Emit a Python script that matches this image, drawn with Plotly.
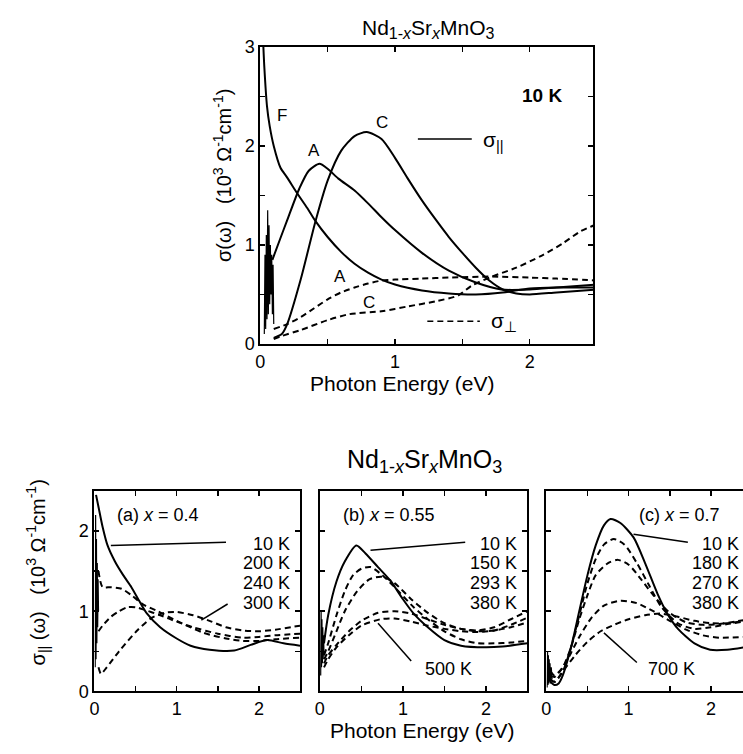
import plotly.graph_objects as go

W, H = 743, 754

# ---------------- data: top panel (10 K) ----------------
E_F = [0.02, 0.03, 0.05, 0.07, 0.1, 0.15, 0.2, 0.27, 0.35, 0.41, 0.5, 0.6, 0.7, 0.8, 0.9, 1.0, 1.2, 1.4, 1.6, 1.8, 2.0, 2.2, 2.5]
S_F = [3.1, 2.8, 2.4, 2.2, 2.0, 1.78, 1.68, 1.53, 1.37, 1.24, 1.08, 0.93, 0.81, 0.72, 0.65, 0.6, 0.54, 0.51, 0.5, 0.52, 0.56, 0.57, 0.57]

E_A = [0.09, 0.15, 0.2, 0.29, 0.36, 0.44, 0.5, 0.58, 0.7, 0.8, 0.9, 1.0, 1.2, 1.4, 1.6, 1.79, 2.0, 2.2, 2.5]
S_A = [0.85, 1.07, 1.25, 1.57, 1.75, 1.82, 1.77, 1.67, 1.55, 1.42, 1.28, 1.15, 0.92, 0.74, 0.62, 0.55, 0.55, 0.57, 0.6]

E_C = [0.1, 0.16, 0.2, 0.3, 0.41, 0.5, 0.6, 0.7, 0.79, 0.9, 1.0, 1.1, 1.2, 1.3, 1.4, 1.5, 1.6, 1.7, 1.8, 1.9, 2.0, 2.2, 2.5]
S_C = [0.06, 0.1, 0.2, 0.65, 1.24, 1.65, 1.95, 2.1, 2.14, 2.07, 1.88, 1.66, 1.45, 1.26, 1.08, 0.92, 0.77, 0.64, 0.55, 0.51, 0.5, 0.52, 0.55]

E_Aperp = [0.1, 0.2, 0.3, 0.4, 0.5, 0.6, 0.7, 0.8, 0.9, 1.0, 1.2, 1.4, 1.72, 2.0, 2.2, 2.5]
S_Aperp = [0.15, 0.2, 0.27, 0.36, 0.45, 0.52, 0.57, 0.61, 0.64, 0.65, 0.66, 0.67, 0.68, 0.67, 0.66, 0.64]

E_Cperp = [0.1, 0.16, 0.3, 0.5, 0.66, 0.9, 1.1, 1.3, 1.47, 1.57, 1.72, 1.9, 2.1, 2.25, 2.38, 2.5]
S_Cperp = [0.05, 0.08, 0.14, 0.24, 0.3, 0.33, 0.38, 0.43, 0.49, 0.59, 0.68, 0.77, 0.9, 1.02, 1.14, 1.21]

E_noise_top = [0.03, 0.035, 0.04, 0.045, 0.05, 0.055, 0.06, 0.065, 0.07, 0.075, 0.08, 0.085, 0.09, 0.095, 0.1]
S_noise_top = [0.1, 0.9, 0.15, 1.1, 0.25, 1.35, 0.3, 1.2, 0.4, 1.0, 0.5, 0.9, 0.3, 0.8, 0.2]

# ---------------- data: (a) x = 0.4 ----------------
E_a10 = [0.02, 0.05, 0.1, 0.16, 0.25, 0.35, 0.45, 0.55, 0.64, 0.8, 1.0, 1.17, 1.4, 1.7, 1.9, 2.1, 2.3, 2.5]
S_a10 = [2.45, 2.3, 2.05, 1.82, 1.62, 1.45, 1.3, 1.12, 0.97, 0.8, 0.66, 0.57, 0.52, 0.51, 0.58, 0.64, 0.6, 0.57]
E_a200 = [0.05, 0.1, 0.2, 0.33, 0.45, 0.6, 0.77, 1.0, 1.33, 1.6, 1.8, 2.0, 2.2, 2.5]
S_a200 = [1.5, 1.3, 1.3, 1.28, 1.2, 1.08, 1.0, 0.88, 0.73, 0.66, 0.63, 0.63, 0.65, 0.67]
E_a240 = [0.05, 0.1, 0.2, 0.3, 0.4, 0.5, 0.6, 0.8, 1.0, 1.2, 1.5, 1.8, 2.0, 2.2, 2.5]
S_a240 = [0.75, 0.82, 0.93, 1.0, 1.05, 1.05, 1.02, 0.95, 0.87, 0.8, 0.72, 0.67, 0.68, 0.7, 0.72]
E_a300 = [0.05, 0.08, 0.15, 0.3, 0.53, 0.7, 0.85, 1.0, 1.2, 1.4, 1.6, 1.8, 2.0, 2.2, 2.5]
S_a300 = [0.3, 0.22, 0.3, 0.5, 0.77, 0.92, 0.98, 0.99, 0.95, 0.88, 0.8, 0.76, 0.75, 0.77, 0.82]
E_noise_a = [0.01, 0.015, 0.02, 0.025, 0.03, 0.035, 0.04, 0.045, 0.05]
S_noise_a = [0.3, 2.2, 0.4, 1.9, 0.6, 1.6, 0.8, 1.4, 1.0]

# ---------------- data: (b) x = 0.55 ----------------
E_b10 = [0.05, 0.1, 0.2, 0.3, 0.44, 0.55, 0.7, 0.85, 1.0, 1.13, 1.3, 1.5, 1.7, 1.99, 2.2, 2.5]
S_b10 = [0.6, 0.95, 1.37, 1.62, 1.82, 1.72, 1.55, 1.38, 1.15, 0.97, 0.8, 0.64, 0.57, 0.55, 0.56, 0.6]
E_b150 = [0.05, 0.1, 0.2, 0.3, 0.4, 0.5, 0.61, 0.75, 0.9, 1.13, 1.3, 1.5, 1.7, 1.9, 2.1, 2.3, 2.5]
S_b150 = [0.45, 0.6, 0.95, 1.25, 1.45, 1.53, 1.55, 1.45, 1.3, 1.05, 0.9, 0.75, 0.65, 0.6, 0.6, 0.61, 0.63]
E_b293 = [0.05, 0.1, 0.2, 0.3, 0.45, 0.6, 0.75, 0.9, 1.1, 1.3, 1.5, 1.7, 1.9, 2.1, 2.3, 2.5]
S_b293 = [0.4, 0.5, 0.75, 1.0, 1.25, 1.4, 1.43, 1.35, 1.15, 0.98, 0.85, 0.78, 0.75, 0.76, 0.8, 0.86]
E_b380 = [0.05, 0.1, 0.2, 0.35, 0.5, 0.7, 0.9, 1.1, 1.3, 1.5, 1.7, 1.9, 2.1, 2.3, 2.5]
S_b380 = [0.35, 0.45, 0.58, 0.75, 0.88, 0.98, 1.0, 0.97, 0.9, 0.83, 0.78, 0.76, 0.8, 0.9, 1.0]
E_b500 = [0.05, 0.1, 0.2, 0.35, 0.5, 0.73, 0.9, 1.1, 1.3, 1.5, 1.7, 1.9, 2.1, 2.3, 2.5]
S_b500 = [0.3, 0.4, 0.55, 0.7, 0.82, 0.9, 0.91, 0.87, 0.82, 0.78, 0.75, 0.74, 0.76, 0.83, 0.92]
E_noise_b = [0.01, 0.015, 0.02, 0.025, 0.03, 0.035, 0.04, 0.045, 0.05]
S_noise_b = [0.2, 1.0, 0.3, 0.9, 0.35, 0.8, 0.4, 0.7, 0.45]

# ---------------- data: (c) x = 0.7 ----------------
E_c10 = [0.05, 0.1, 0.15, 0.2, 0.3, 0.4, 0.5, 0.6, 0.7, 0.78, 0.9, 1.06, 1.2, 1.35, 1.47, 1.6, 1.8, 1.99, 2.2, 2.4]
S_c10 = [0.12, 0.08, 0.1, 0.2, 0.55, 1.0, 1.45, 1.82, 2.07, 2.15, 2.1, 1.92, 1.6, 1.22, 0.97, 0.78, 0.6, 0.52, 0.52, 0.55]
E_c180 = [0.05, 0.1, 0.2, 0.3, 0.4, 0.5, 0.6, 0.7, 0.82, 0.95, 1.1, 1.25, 1.4, 1.6, 1.8, 2.0, 2.2, 2.4]
S_c180 = [0.15, 0.12, 0.25, 0.55, 0.95, 1.35, 1.65, 1.83, 1.9, 1.83, 1.6, 1.32, 1.05, 0.85, 0.78, 0.8, 0.84, 0.87]
E_c270 = [0.05, 0.1, 0.2, 0.3, 0.4, 0.5, 0.6, 0.75, 0.87, 1.0, 1.15, 1.3, 1.5, 1.7, 1.9, 2.1, 2.4]
S_c270 = [0.2, 0.18, 0.3, 0.55, 0.9, 1.2, 1.45, 1.6, 1.64, 1.58, 1.4, 1.2, 0.98, 0.86, 0.83, 0.84, 0.89]
E_c380 = [0.05, 0.1, 0.2, 0.3, 0.4, 0.55, 0.7, 0.9, 1.1, 1.3, 1.5, 1.7, 1.9, 2.1, 2.4]
S_c380 = [0.25, 0.2, 0.3, 0.48, 0.68, 0.92, 1.07, 1.13, 1.1, 1.0, 0.88, 0.77, 0.7, 0.67, 0.68]
E_c700 = [0.05, 0.1, 0.2, 0.35, 0.5, 0.66, 0.8, 1.0, 1.2, 1.39, 1.6, 1.8, 2.0, 2.2, 2.4]
S_c700 = [0.15, 0.12, 0.25, 0.45, 0.62, 0.75, 0.82, 0.9, 0.95, 0.97, 0.93, 0.88, 0.85, 0.85, 0.88]
E_noise_c = [0.01, 0.015, 0.02, 0.025, 0.03, 0.035, 0.04, 0.045, 0.05, 0.06, 0.07]
S_noise_c = [0.05, 0.5, 0.08, 0.45, 0.1, 0.4, 0.12, 0.35, 0.1, 0.3, 0.15]

major_ticks = [0, 1, 2, 3]
minor_ticks = [0.5, 1.5, 2.5]

# ---------------- figure ----------------
FONT = "Liberation Sans, Arial, sans-serif"
fig = go.Figure()
DASH = "6px,4px"


def add(x, y, axes, dash=None, width=2.0, shape="spline"):
    xa, ya = axes
    fig.add_trace(go.Scatter(
        x=x, y=y, xaxis=xa, yaxis=ya, mode="lines",
        line=dict(color="black", width=width, dash=dash if dash else "solid",
                  shape=shape, smoothing=0.7 if shape == "spline" else None),
        showlegend=False, hoverinfo="skip"))


# top
add(E_F, S_F, ("x", "y"))
add(E_A, S_A, ("x", "y"))
add(E_C, S_C, ("x", "y"))
add(E_Aperp, S_Aperp, ("x", "y"), dash=DASH)
add(E_Cperp, S_Cperp, ("x", "y"), dash=DASH)
add(E_noise_top, S_noise_top, ("x", "y"), width=1.2, shape="linear")
# (a)
add(E_a10, S_a10, ("x2", "y2"))
add(E_a200, S_a200, ("x2", "y2"), dash=DASH)
add(E_a240, S_a240, ("x2", "y2"), dash=DASH)
add(E_a300, S_a300, ("x2", "y2"), dash=DASH)
add(E_noise_a, S_noise_a, ("x2", "y2"), width=1.2, shape="linear")
# (b)
add(E_b10, S_b10, ("x3", "y3"))
add(E_b150, S_b150, ("x3", "y3"), dash=DASH)
add(E_b293, S_b293, ("x3", "y3"), dash=DASH)
add(E_b380, S_b380, ("x3", "y3"), dash=DASH)
add(E_b500, S_b500, ("x3", "y3"), dash=DASH)
add(E_noise_b, S_noise_b, ("x3", "y3"), width=1.2, shape="linear")
# (c)
add(E_c10, S_c10, ("x4", "y4"))
add(E_c180, S_c180, ("x4", "y4"), dash=DASH)
add(E_c270, S_c270, ("x4", "y4"), dash=DASH)
add(E_c380, S_c380, ("x4", "y4"), dash=DASH)
add(E_c700, S_c700, ("x4", "y4"), dash=DASH)
add(E_noise_c, S_noise_c, ("x4", "y4"), width=1.2, shape="linear")


def px(x):
    return x / W


def py(y):
    return 1 - y / H


def axis(domain, rng, anchor, labels=True, mirror="ticks", fs=18):
    return dict(domain=domain, range=rng, anchor=anchor, showline=True, linecolor="black",
                linewidth=2, mirror=mirror, ticks="inside", ticklen=5, tickwidth=1.5,
                tickcolor="black", tickmode="array", tickvals=major_ticks,
                minor=dict(tickmode="array", tickvals=minor_ticks, ticks="inside",
                           ticklen=5, tickwidth=1.5, tickcolor="black", showgrid=False),
                showticklabels=labels, showgrid=False, zeroline=False,
                tickfont=dict(family=FONT, size=fs, color="black"))


fig.update_layout(
    width=W, height=H, margin=dict(l=0, r=0, t=0, b=0),
    paper_bgcolor="white", plot_bgcolor="white",
    xaxis=axis([px(257), px(592)], [0, 2.47], "y"),
    yaxis=axis([py(343), py(38)], [0, 3], "x"),
    xaxis2=axis([px(90), px(297)], [0, 2.5], "y2"),
    yaxis2=axis([py(700), py(494)], [0, 2.5], "x2"),
    xaxis3=axis([px(317), px(526)], [0, 2.5], "y3"),
    yaxis3=axis([py(700), py(494)], [0, 2.5], "x3", labels=False),
    xaxis4=axis([px(545), 1.0], [0, 2.39], "y4"),
    yaxis4=axis([py(700), py(494)], [0, 2.5], "x4", labels=False, mirror=False),
)

ann = []


def txt(x, y, s, size, xref="paper", yref="paper", xanchor="center", angle=0, yanchor="middle"):
    if xref == "paper":
        x = px(x)
    if yref == "paper":
        y = py(y)
    ann.append(dict(x=x, y=y, xref=xref, yref=yref, text=s, showarrow=False,
                    xanchor=xanchor, yanchor=yanchor, textangle=angle,
                    font=dict(family=FONT, size=size, color="black")))


def name(sub):
    return ("Nd<sub><span style='font-size:%dpx'>1-<i>x</i></span></sub>"
            "Sr<sub><span style='font-size:%dpx'><i>x</i></span></sub>"
            "MnO<sub><span style='font-size:%dpx'>3</span></sub>") % (sub, sub, sub)


YT = "(10<sup>3</sup> Ω<sup>-1</sup>cm<sup>-1</sup>)"
GAP = "&nbsp;&nbsp;&nbsp;"
txt(426, 20, name(16), 21)
txt(400, 384, "Photon Energy (eV)", 21)
txt(219, 170, "σ(ω)" + GAP + YT, 20, angle=-90)
txt(0.16, 2.31, "F", 17, "x", "y")
txt(0.4, 1.95, "A", 17, "x", "y")
txt(0.9, 2.24, "C", 17, "x", "y")
txt(0.59, 0.68, "A", 17, "x", "y")
txt(0.81, 0.42, "C", 17, "x", "y")
txt(2.09, 2.51, "<b>10 K</b>", 19, "x", "y")
txt(1.64, 2.05, "σ<sub>||</sub>", 21, "x", "y", xanchor="left")
txt(1.7, 0.22, "σ<sub>⊥</sub>", 21, "x", "y", xanchor="left")

txt(422, 463, name(18), 25)
txt(420, 740, "Photon Energy (eV)", 21)
txt(33, 578, "σ<sub>||</sub> (ω)" + GAP + YT, 20, angle=-90)

txt(0.25, 2.2, "(a) <i>x</i> = 0.4", 18, "x2", "y2", xanchor="left")
txt(0.25, 2.2, "(b) <i>x</i> = 0.55", 18, "x3", "y3", xanchor="left")
txt(1.1, 2.2, "(c) <i>x</i> = 0.7", 18, "x4", "y4", xanchor="left")

for i, lab in enumerate(["10 K", "200 K", "240 K", "300 K"]):
    txt(2.4, 1.84 - 0.245 * i, lab, 18, "x2", "y2", xanchor="right")
for i, lab in enumerate(["10 K", "150 K", "293 K", "380 K"]):
    txt(2.4, 1.84 - 0.245 * i, lab, 18, "x3", "y3", xanchor="right")
for i, lab in enumerate(["10 K", "180 K", "270 K", "380 K"]):
    txt(2.36, 1.84 - 0.245 * i, lab, 18, "x4", "y4", xanchor="right")
txt(1.55, 0.28, "500 K", 18, "x3", "y3")
txt(1.52, 0.28, "700 K", 18, "x4", "y4")
fig.update_layout(annotations=ann)

shapes = []


def seg(x0, y0, x1, y1, xref, yref, dash="solid"):
    shapes.append(dict(type="line", x0=x0, y0=y0, x1=x1, y1=y1, xref=xref, yref=yref,
                       line=dict(color="black", width=1.5, dash=dash)))


# legend lines top
seg(1.17, 2.07, 1.57, 2.07, "x", "y")
seg(1.24, 0.23, 1.63, 0.23, "x", "y", dash=DASH)
# pointer lines
seg(0.2, 1.82, 1.6, 1.86, "x2", "y2")
seg(1.3, 0.89, 1.62, 1.09, "x2", "y2")
seg(0.61, 1.76, 1.75, 1.86, "x3", "y3")
seg(0.7, 0.85, 1.1, 0.38, "x3", "y3")
seg(1.06, 1.96, 1.72, 1.86, "x4", "y4")
seg(0.7, 0.73, 1.1, 0.36, "x4", "y4")
fig.update_layout(shapes=shapes)

fig.write_html("out.html", config={"displayModeBar": False, "staticPlot": True},
               post_script="document.body.style.margin='0';document.body.style.padding='0';")
